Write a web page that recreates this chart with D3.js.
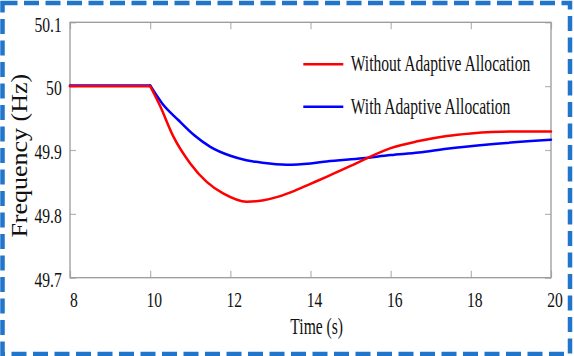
<!DOCTYPE html>
<html>
<head>
<meta charset="utf-8">
<script src="https://cdn.jsdelivr.net/npm/d3@7"></script>
<style>
  html, body { margin: 0; padding: 0; background: #fff; }
  svg { display: block; }
</style>
</head>
<body>
<svg id="chart" width="574" height="356"></svg>
<script>
// ---- data ----
const xTicks = [8, 10, 12, 14, 16, 18, 20];
const yTicks = [49.7, 49.8, 49.9, 50.0, 50.1];
const yTickLabels = ["49.7", "49.8", "49.9", "50", "50.1"];

const seriesNames = ["Without Adaptive Allocation", "With Adaptive Allocation"];

const timeRed = [8, 10, 10.24, 10.58, 11.0, 11.41, 11.82, 12.41, 12.8, 13.2, 13.6, 14.0, 14.4, 15.0, 15.4, 16.0, 16.7, 17.4, 18.0, 19.0, 20.0];
const freqRed = [50.0, 50.0, 49.970, 49.921, 49.879, 49.850, 49.832, 49.819, 49.821, 49.827, 49.836, 49.847, 49.858, 49.875, 49.887, 49.903, 49.914, 49.922, 49.926, 49.929, 49.929];

const timeBlue = [8, 10, 10.3, 10.7, 11.1, 11.5, 12.0, 12.4, 12.8, 13.4, 14.0, 14.4, 15.3, 16.0, 16.7, 17.4, 18.5, 20.0];
const freqBlue = [50.001, 50.001, 49.973, 49.947, 49.923, 49.905, 49.891, 49.884, 49.880, 49.877, 49.879, 49.882, 49.887, 49.892, 49.896, 49.902, 49.909, 49.916];

const eventTime = 10;

// ---- drawing ----
(function () {
const FONT = "Liberation Serif";
const svg = d3.select("#chart");
const W = 574, H = 356;
const pLeft = 70, pRight = 551, pTop = 22.3, pBottom = 277.7;

const x = d3.scaleLinear().domain([8, 20]).range([pLeft, pRight]);
const y = d3.scaleLinear().domain([49.7, 50.1]).range([pBottom, pTop]);

svg.append("rect").attr("width", W).attr("height", H).attr("fill", "#fff");

const axisColor = "#9a9a9a";
const gx = svg.append("g").attr("transform", `translate(0,${pBottom})`)
  .call(d3.axisBottom(x).tickValues(xTicks).tickFormat(d3.format("d")).tickSizeInner(-7).tickSizeOuter(0));
const gxt = svg.append("g").attr("transform", `translate(0,${pTop})`)
  .call(d3.axisTop(x).tickValues(xTicks).tickFormat("").tickSizeInner(-7).tickSizeOuter(0));
const gy = svg.append("g").attr("transform", `translate(${pLeft},0)`)
  .call(d3.axisLeft(y).tickValues(yTicks).tickFormat((d, i) => yTickLabels[i]).tickSizeInner(-6).tickSizeOuter(0));
const gyr = svg.append("g").attr("transform", `translate(${pRight},0)`)
  .call(d3.axisRight(y).tickValues(yTicks).tickFormat("").tickSizeInner(-6).tickSizeOuter(0));

[gx, gxt, gy, gyr].forEach(g => {
  g.attr("font-family", FONT).attr("font-size", 20);
  g.select(".domain").remove();
  g.selectAll(".tick line").attr("stroke", "#b5b5b5").attr("stroke-width", 1.2);
});

gx.selectAll(".tick text")
  .attr("y", 0).attr("dy", 0)
  .attr("transform", "translate(3.5,28.8) scale(0.78,1)")
  .attr("text-anchor", "middle")
  .style("font-family", FONT).style("font-size", "20px").style("fill", "#111");

gy.selectAll(".tick text")
  .attr("x", 0).attr("dy", 0)
  .attr("transform", "translate(-8.3,8.8) scale(0.78,1)")
  .attr("text-anchor", "end")
  .style("font-family", FONT).style("font-size", "20px").style("fill", "#111");

svg.append("rect")
  .attr("x", pLeft).attr("y", pTop)
  .attr("width", pRight - pLeft).attr("height", pBottom - pTop)
  .attr("fill", "none").attr("stroke", axisColor).attr("stroke-width", 1.3);

const line = d3.line().x(d => x(d[0])).y(d => y(d[1])).curve(d3.curveMonotoneX);
function drawSeries(times, vals, color) {
  const pts = times.map((t, i) => [t, vals[i]]);
  const pre = pts.filter(d => d[0] <= eventTime);
  const post = pts.filter(d => d[0] >= eventTime);
  [pre, post].forEach(seg => {
    svg.append("path").datum(seg).attr("d", line)
      .attr("fill", "none").attr("stroke", color).attr("stroke-width", 2.5)
      .attr("stroke-linejoin", "round").attr("stroke-linecap", "round");
  });
}
drawSeries(timeBlue, freqBlue, "#0000ff");
drawSeries(timeRed, freqRed, "#ff0000");

const legendColors = ["#ff0000", "#0000ff"];
const legendY = [64.3, 106.7];
seriesNames.forEach((name, i) => {
  svg.append("line")
    .attr("x1", 303.3).attr("x2", 343.3)
    .attr("y1", legendY[i]).attr("y2", legendY[i])
    .attr("stroke", legendColors[i]).attr("stroke-width", 2.5);
  svg.append("text")
    .attr("transform", `translate(350.7,${legendY[i] + 6.8}) scale(0.65,1)`)
    .style("font-family", FONT).style("font-size", "24px").style("fill", "#111")
    .text(name);
});

svg.append("text")
  .attr("transform", "translate(316.7,334) scale(0.65,1)")
  .attr("text-anchor", "middle")
  .style("font-family", FONT).style("font-size", "24px").style("fill", "#111")
  .text("Time (s)");

svg.append("text")
  .attr("transform", "translate(26.7,155.7) rotate(-90) scale(1,0.87)")
  .attr("text-anchor", "middle")
  .style("font-family", FONT).style("font-size", "26px").style("fill", "#111")
  .text("Frequency (Hz)");

svg.append("rect")
  .attr("x", 2.5).attr("y", 3)
  .attr("width", 567.5).attr("height", 351)
  .attr("fill", "none")
  .attr("stroke", "#2176cc")
  .attr("stroke-width", 4.5)
  .attr("stroke-dasharray", "15,6.5");
})();
</script>
</body>
</html>
